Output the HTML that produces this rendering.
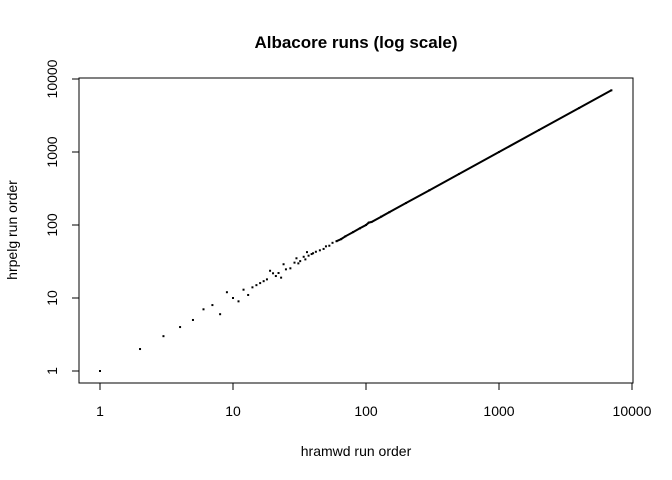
<!DOCTYPE html>
<html><head><meta charset="utf-8"><style>
body{margin:0;background:#fff}
svg{display:block;font-family:"Liberation Sans",sans-serif}
</style></head><body>
<svg id="chart" width="672" height="480" viewBox="0 0 672 480" xmlns="http://www.w3.org/2000/svg">
<rect width="672" height="480" fill="#fff"/>
<text x="356" y="48" text-anchor="middle" font-size="17" font-weight="bold">Albacore runs (log scale)</text>
<rect x="79" y="78" width="554" height="305" fill="none" stroke="#000" stroke-width="1"/>
<text x="356" y="456" text-anchor="middle" font-size="14">hramwd run order</text>
<text transform="translate(17,230) rotate(-90)" text-anchor="middle" font-size="14">hrpelg run order</text>
<g id="axes"></g>
<g id="marks"></g>
</svg>
<script>
const xTicks = [1, 10, 100, 1000, 10000];
const yTicks = [1, 10, 100, 1000, 10000];
const tickLabels = ["1", "10", "100", "1000", "10000"];
const hramwd = [1,2,3,4,5,6,7,8,9,10,11,12,13,14,15,16,17,18,19,20,21,22,23,24,25,27,29,30,31,32,34,35,36,37,39,40,42,45,48,50,53,56,60,65,70,80,90,100,105,110,130,150,200,300,500,1000,2000,4000,7000];
const hrpelg = [1,2,3,4,5,7,8,6,12,10,9,13,11,14,15,16,17,18,23.6,21.8,20,22,19,29,24.7,25.5,30.5,35,29.8,32,36.7,33.8,42.5,38,40,41,43,45,47,51,52,57,60,64,70,80,90,100,108,110,130,150,200,300,500,1000,2000,4000,7000];

const NS = "http://www.w3.org/2000/svg";
const xs = v => 100 + 133 * Math.log10(v);
const ys = v => 371 - 73 * Math.log10(v);
const axes = document.getElementById("axes");
const marks = document.getElementById("marks");
function mk(tag, attrs, parent){ const e = document.createElementNS(NS, tag); for (const k in attrs) e.setAttribute(k, attrs[k]); parent.appendChild(e); return e; }

xTicks.forEach((t, i) => {
  const x = xs(t);
  const l = mk("line", {x1:x, x2:x, y1:383, y2:390, stroke:"#000"}, axes);
  
  
  const tx = mk("text", {x:x, y:416, "text-anchor":"middle", "font-size":14}, axes);
  tx.textContent = tickLabels[i];
  
  
});
yTicks.forEach((t, i) => {
  const y = ys(t);
  const l = mk("line", {x1:72, x2:79, y1:y, y2:y, stroke:"#000"}, axes);
  
  
  const tx = mk("text", {x:0, y:0, "text-anchor":"middle", "font-size":14, transform:`translate(57,${y}) rotate(-90)`}, axes);
  tx.textContent = tickLabels[i];
  
  
});

// dense region drawn as connected trace
let pts = [];
hramwd.forEach((v, i) => { if (v >= 60) pts.push(xs(v).toFixed(1) + "," + ys(hrpelg[i]).toFixed(1)); });
const pl = mk("polyline", {points: pts.join(" "), fill:"none", stroke:"#000", "stroke-width":2}, marks);



hramwd.forEach((v, i) => {
  const r = mk("rect", {x:xs(v)-1, y:ys(hrpelg[i])-1, width:2, height:2, fill:"#000"}, marks);
  
  
});
</script>
</body></html>
